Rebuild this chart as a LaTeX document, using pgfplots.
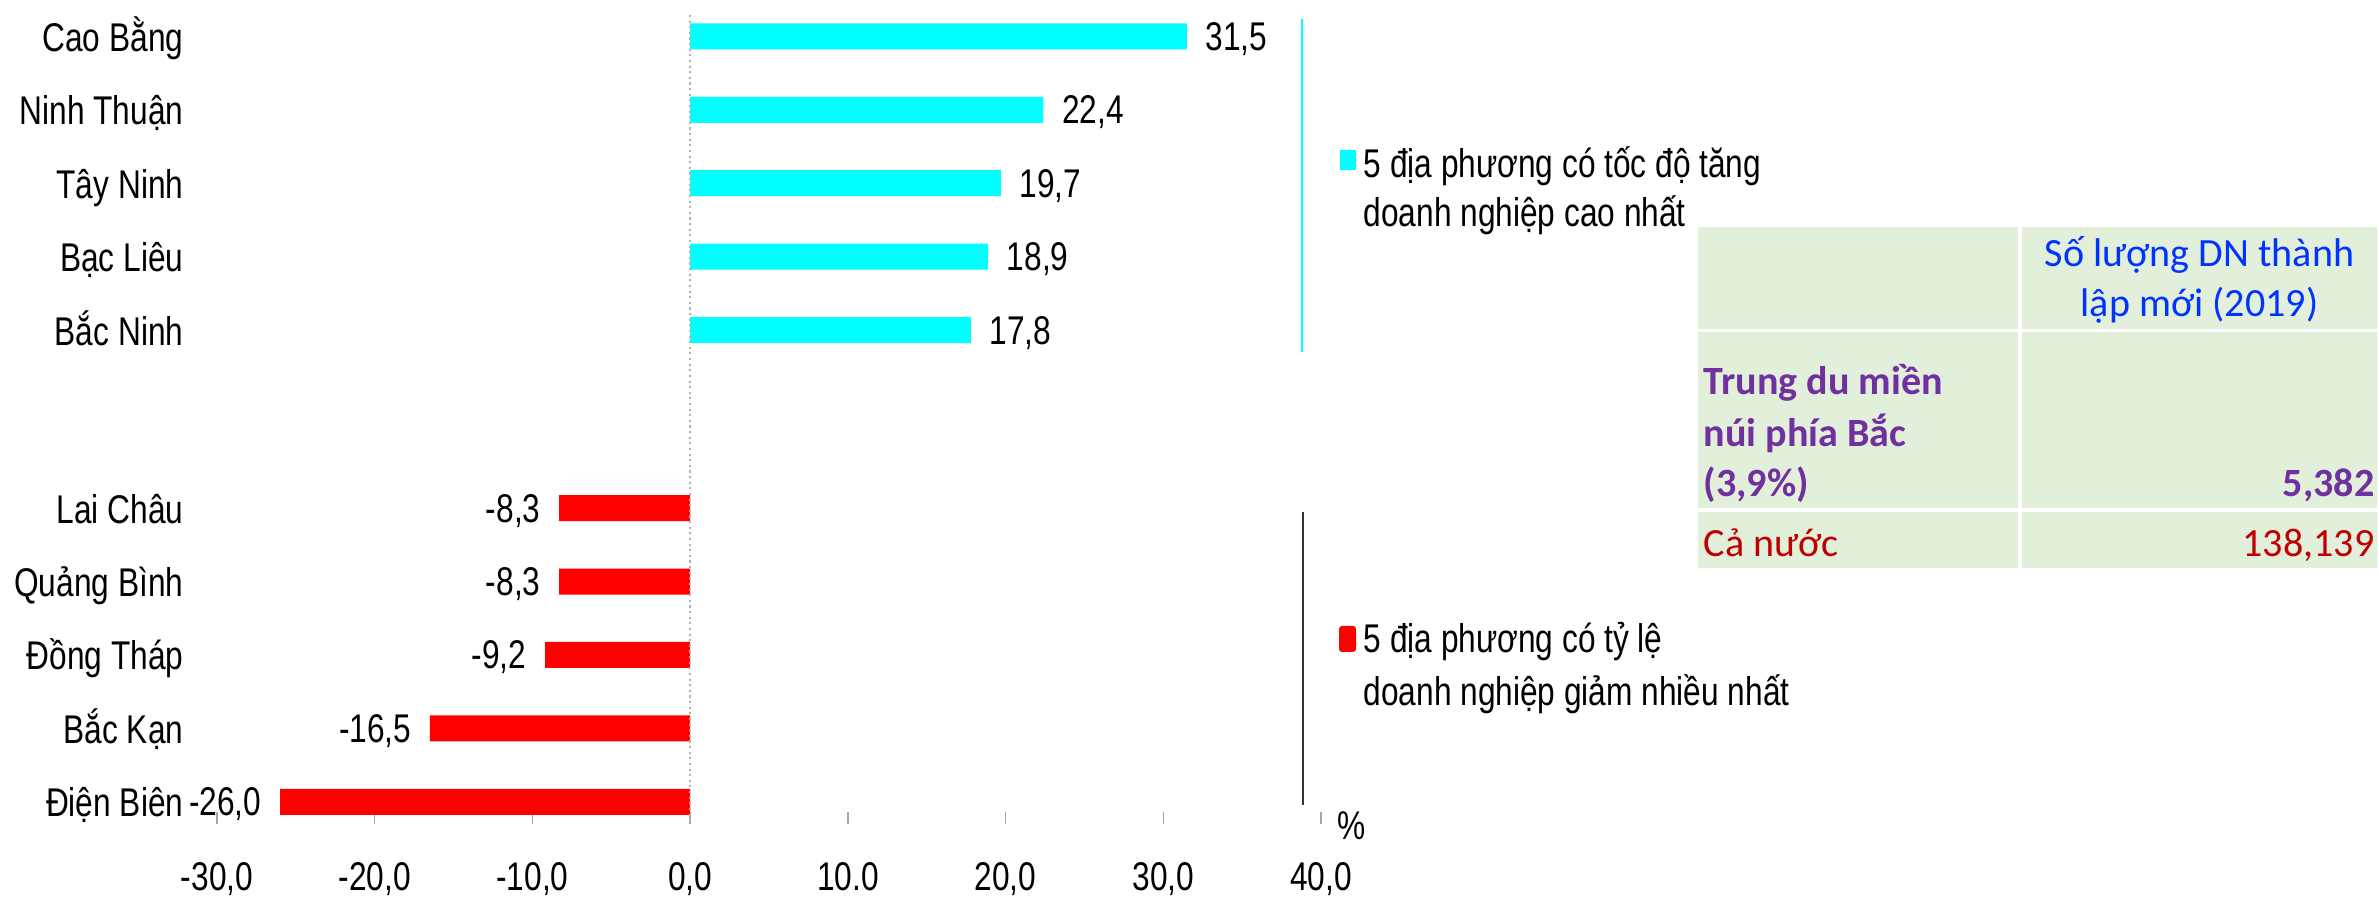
\documentclass[border=0pt]{standalone}
\usepackage{fontspec}
\usepackage{pgfplots}
\usepackage{pgfplotstable}
\pgfplotsset{compat=1.18}
\newfontfamily\nf[FakeStretch=0.79]{Liberation Sans}
\newfontfamily\cf{Carlito}
\newcommand\tf{\nf\fontsize{11.4}{13}\selectfont}
\newcommand\tff{\cf\fontsize{11.4}{13}\selectfont}
\definecolor{barcyan}{RGB}{0,255,255}
\definecolor{barred}{RGB}{255,0,0}
\definecolor{tblgreen}{RGB}{226,239,218}
\definecolor{tblblue}{RGB}{0,51,255}
\definecolor{tblpurple}{RGB}{112,48,160}
\definecolor{tblred}{RGB}{192,0,0}

\pgfplotstableread{
pos val lab
0 31.5 31,5
-1 22.4 22,4
-2 19.7 19,7
-3 18.9 18,9
-4 17.8 17,8
}\toptab
\pgfplotstableread{
pos val lab
-6.42 -8.3 -8,3
-7.42 -8.3 -8,3
-8.42 -9.2 -9,2
-9.42 -16.5 -16,5
-10.42 -26.0 -26,0
}\bottab

\begin{document}
\begin{tikzpicture}[x=1mm,y=1mm]
\path[use as bounding box] (0,0) rectangle (237.9,89.9);
\begin{axis}[
  at={(21.7mm,7.5mm)}, anchor=south west,
  scale only axis, width=110.4mm, height=80.9mm,
  xmin=-30, xmax=40, ymin=-10.72, ymax=0.29,
  axis line style={draw=none},
  xtick={-30,-20,-10,0,10,20,30,40},
  xticklabels={{-30,0},{-20,0},{-10,0},{0,0},{10.0},{20,0},{30,0},{40,0}},
  ytick={-10.42,-9.42,-8.42,-7.42,-6.42,-4,-3,-2,-1,0},
  yticklabels={Điện Biên,Bắc Kạn,Đồng Tháp,Quảng Bình,Lai Châu,Bắc Ninh,Bạc Liêu,Tây Ninh,Ninh Thuận,Cao Bằng},
  ytick style={draw=none},
  xtick style={draw=gray!70, thin},
  xtick pos=bottom, ytick pos=left,
  major tick length=1.2mm,
  ticklabel style={font=\tf, inner sep=0pt},
  xticklabel style={anchor=base, yshift=-6.7mm},
  yticklabel style={anchor=base east, xshift=-2.1mm, yshift=-1.5mm},
  xbar, bar width=2.6mm,
  point meta=explicit symbolic,
  nodes near coords,
  nodes near coords style={font=\tf, inner sep=0pt},
  clip=false,
]
\addplot[draw=none, fill=barcyan, bar shift=0pt,
  every node near coord/.append style={anchor=base west, xshift=1.8mm, yshift=-1.4mm}]
  table[x=val, y=pos, meta=lab] {\toptab};
\addplot[draw=none, fill=barred, bar shift=0pt,
  every node near coord/.append style={anchor=base east, xshift=-1.8mm, yshift=-1.4mm}]
  table[x=val, y=pos, meta=lab] {\bottab};
\draw[gray!60, densely dotted, line width=0.6pt] (axis cs:0,0.29) -- (axis cs:0,-10.72);
\end{axis}
% side lines
\draw[barcyan, line width=0.5pt] (130.2,88.0) -- (130.2,54.7);
\draw[black!80, line width=0.5pt] (130.3,38.7) -- (130.3,9.4);
\node[font=\tf, inner sep=0pt] at (135.2,7.3) {\%};
% legend
\fill[barcyan] (134.0,72.9) rectangle (135.6,74.9);
\node[anchor=base west, inner sep=0pt, font=\tf] at (136.3,72.1) {5 địa phương có tốc độ tăng};
\node[anchor=base west, inner sep=0pt, font=\tf] at (136.3,67.2) {doanh nghiệp cao nhất};
\fill[barred, rounded corners=0.3mm] (133.9,24.7) rectangle (135.6,27.3);
\node[anchor=base west, inner sep=0pt, font=\tf] at (136.3,24.6) {5 địa phương có tỷ lệ};
\node[anchor=base west, inner sep=0pt, font=\tf] at (136.3,19.3) {doanh nghiệp giảm nhiều nhất};
% table
\fill[tblgreen] (169.8,57.0) rectangle (201.8,67.2);
\fill[tblgreen] (202.2,57.0) rectangle (237.7,67.2);
\fill[tblgreen] (169.8,39.1) rectangle (201.8,56.7);
\fill[tblgreen] (202.2,39.1) rectangle (237.7,56.7);
\fill[tblgreen] (169.8,33.1) rectangle (201.8,38.7);
\fill[tblgreen] (202.2,33.1) rectangle (237.7,38.7);
\node[anchor=base, inner sep=0pt, font=\tff, text=tblblue] at (219.95,63.2) {Số lượng DN thành};
\node[anchor=base, inner sep=0pt, font=\tff, text=tblblue] at (219.95,58.2) {lập mới (2019)};
\node[anchor=base west, inner sep=0pt, font=\tff\bfseries, text=tblpurple] at (170.3,50.4) {Trung du miền};
\node[anchor=base west, inner sep=0pt, font=\tff\bfseries, text=tblpurple] at (170.3,45.2) {núi phía Bắc};
\node[anchor=base west, inner sep=0pt, font=\tff\bfseries, text=tblpurple] at (170.3,40.2) {(3,9\%)};
\node[anchor=base east, inner sep=0pt, font=\tff\bfseries, text=tblpurple] at (237.5,40.2) {5,382};
\node[anchor=base west, inner sep=0pt, font=\tff, text=tblred] at (170.3,34.2) {Cả nước};
\node[anchor=base east, inner sep=0pt, font=\tff, text=tblred] at (237.5,34.2) {138,139};
\end{tikzpicture}
\end{document}
